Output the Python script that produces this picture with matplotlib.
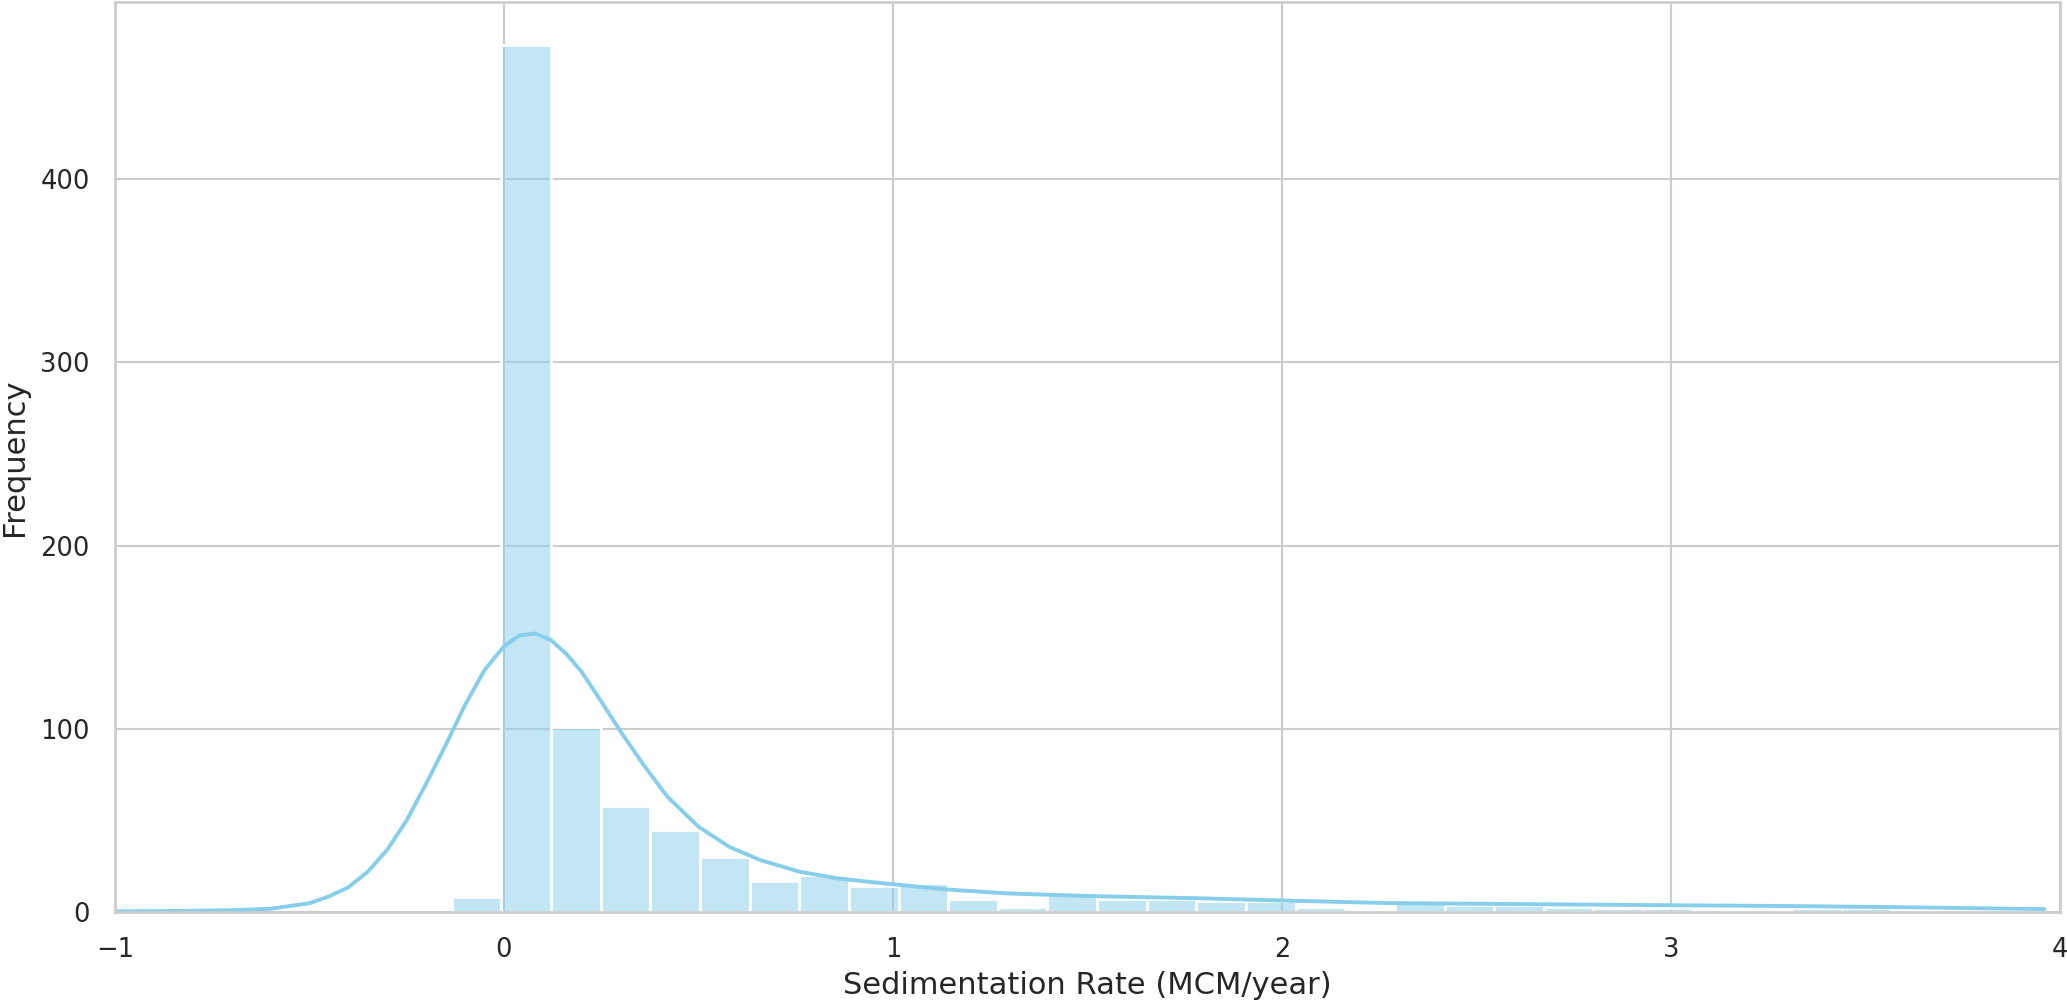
import numpy as np
import matplotlib.pyplot as plt
import seaborn as sns
from matplotlib.colors import to_rgba

# histogram counts, 32 equal bins
bin_start = -0.134
bin_width = 0.1276
counts = [8, 473, 101, 58, 45, 30, 17, 20, 14, 16, 7, 3, 11, 7, 7, 6,
          6, 3, 0, 6, 4, 4, 3, 2, 2, 1, 1, 2, 2, 1, 1, 1]

# kde curve (in count units)
kde_x = [-1.0, -0.9, -0.8, -0.7, -0.6, -0.5, -0.45, -0.4, -0.35, -0.3,
         -0.25, -0.2, -0.15, -0.1, -0.05, 0.0, 0.04, 0.08, 0.12, 0.16,
         0.2, 0.25, 0.3, 0.36, 0.42, 0.5, 0.58, 0.66, 0.76, 0.86,
         0.97, 1.14, 1.29, 1.49, 1.79, 2.0, 2.27, 2.52, 3.0, 3.29, 3.61, 3.96]
kde_y = [0.4, 0.5, 0.7, 1.0, 1.8, 4.8, 8.5, 13.5, 22, 34,
         50, 70, 91, 113, 132, 145, 151, 152, 148.6, 141,
         131, 115, 98.5, 80, 63, 46.6, 35.5, 28.3, 22, 18.3,
         15.8, 12.3, 10.2, 8.8, 7.5, 6.3, 4.9, 4.5, 3.7, 3.3, 2.6, 1.6]

x_ticks = [-1, 0, 1, 2, 3, 4]
y_ticks = [0, 100, 200, 300, 400]

sns.set_theme(style="whitegrid")
plt.rcParams['font.family'] = ['DejaVu Sans']
plt.rcParams['axes.linewidth'] = 1.9
plt.rcParams['grid.linewidth'] = 1.5

fig, ax = plt.subplots(figsize=(20.67, 10.06), dpi=100)
fig.subplots_adjust(left=0.0556, right=0.9966, bottom=0.0934, top=0.998)

edges = bin_start + bin_width * np.arange(len(counts) + 1)
ax.bar(edges[:-1], counts, width=bin_width, align='edge',
       facecolor=to_rgba('skyblue', 0.5), edgecolor='white', linewidth=2)
ax.plot(kde_x, kde_y, color='skyblue', linewidth=2.8)

ax.set_xlim(-1, 4)
ax.set_xticks(x_ticks)
ax.set_yticks(y_ticks)
ax.tick_params(axis='both', length=0, pad=18, labelsize=18.5, colors='.15')

ax.set_xlabel("Sedimentation Rate (MCM/year)", fontsize=22, color='.15', labelpad=6)
ax.set_ylabel("Frequency", fontsize=22, color='.15', labelpad=8)

for s in ax.spines.values():
    s.set_color('#cccccc')

fig.savefig("out.png", dpi=100)
